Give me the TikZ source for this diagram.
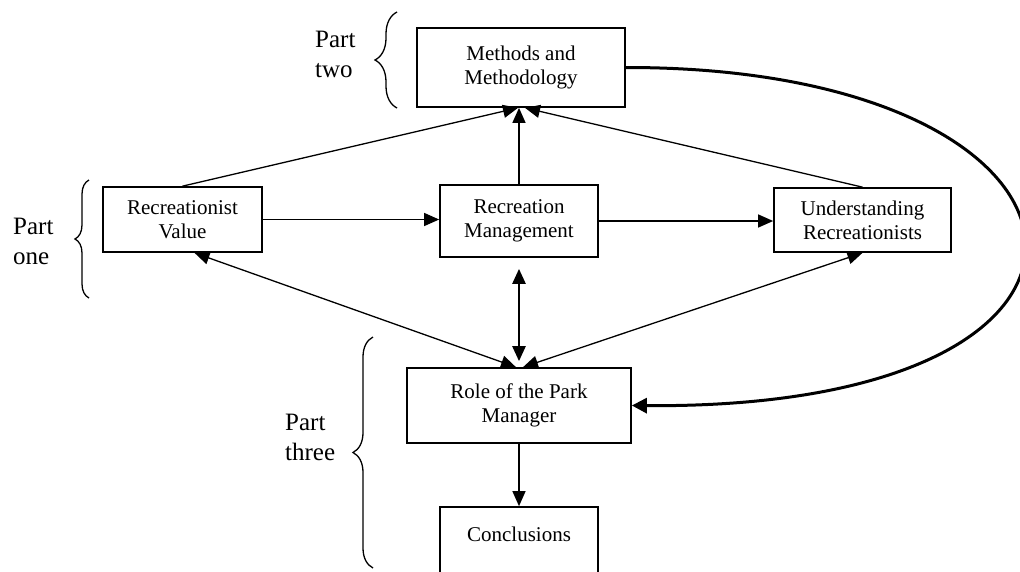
\documentclass[tikz,border=0pt]{standalone}
\usepackage{fontspec}
\setmainfont{Liberation Serif}
\usetikzlibrary{arrows.meta,decorations.pathreplacing,calc}
\begin{document}
\begin{tikzpicture}[x=1pt,y=-1pt,
  box/.style={draw,line width=1.7pt,inner sep=0pt,align=center,font=\fontsize{21}{24}\selectfont},
  lbl/.style={inner sep=0pt,align=left,font=\fontsize{25}{30}\selectfont},
  tip/.tip={Triangle[length=15pt,width=13pt]},
  conn/.style={line width=1.3pt,-tip},
  both/.style={line width=1.3pt,tip-tip},
  brc/.style={line width=1.3pt,decorate},
]
\useasboundingbox (0,0) rectangle (1020,571);
\clip (0,0) rectangle (1020,571);

% boxes
\node[box,minimum width=208pt,minimum height=79pt] (M) at (521,67.5) {Methods and\\Methodology};
\node[box,minimum width=159pt,minimum height=65pt] (RV) at (182.5,219.5) {Recreationist\\Value};
\node[box,minimum width=158pt,minimum height=72pt] (RM) at (519,221) {Recreation\\Management};
\node[box,minimum width=177pt,minimum height=64pt] (UR) at (862.5,220) {Understanding\\Recreationists};
\node[box,minimum width=224pt,minimum height=75pt] (RP) at (519,405.5) {Role of the Park\\Manager};
\node[box,minimum width=158pt,minimum height=78pt] (C) at (519,546) {Conclusions\\\mbox{}};

% part labels
\node[lbl,anchor=north west] (P2) at (315,30.5) {Part\\two};
\node[lbl,anchor=north west] (P1) at (13,217.5) {Part\\one};
\node[lbl,anchor=north west] (P3) at (285,413.5) {Part\\three};

% braces
\draw[brc,decoration={brace,amplitude=22pt}] (397,108) -- (397,12);
\draw[brc,decoration={brace,amplitude=14pt}] (89,298) -- (89,180);
\draw[brc,decoration={brace,amplitude=20pt}] (373,568) -- (373,337);

% connectors
\draw[conn] (RV.north) -- ([xshift=-3pt]M.south);
\draw[conn] (RM.north) -- (RM.north |- M.south);
\draw[conn] (UR.north) -- ([xshift=4pt]M.south);
\draw[conn] (RV.east) -- (RV.east -| RM.west);
\draw[conn] (RM.east) -- (RM.east -| UR.west);
\draw[both] ([xshift=12pt]RV.south) -- ([xshift=-3pt]RP.north);
\draw[both] (UR.south) -- ([xshift=4pt]RP.north);
\draw[both,line width=2.5pt] ([yshift=-11pt]RM.south) -- ([yshift=6pt]RP.north);
\draw[conn] (RP.south) -- (C.north);
\draw[line width=3pt,-{Triangle[length=15pt,width=15pt]}] (M.east) .. controls (1130,67) and (1180,410) .. (RP.east);
\end{tikzpicture}
\end{document}
